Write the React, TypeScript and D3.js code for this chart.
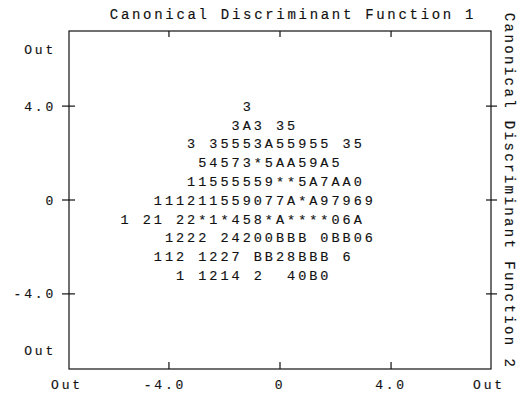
import React from "react";
import { scaleLinear } from "d3";

// territorial-style text plot
const X_TICKS = [-4, 0, 4];
const X_TICK_LABELS = ["-4.0", "0", "4.0"];
const Y_TICKS = [4, 0, -4];
const Y_TICK_LABELS = ["4.0", "0", "-4.0"];
const OUT_X = [-7.6, 7.6];
const OUT_Y = [6.4, -6.4];

const ROW_Y = [4.0, 3.2, 2.4, 1.6, 0.8, 0, -0.8, -1.6, -2.4, -3.2];
const ROW_START_COL = [-3, -4, -8, -7, -8, -11, -14, -10, -11, -9];
const ROW_TEXT = [
  "3",
  "3A3 35",
  "3 35553A55955 35",
  "54573*5AA59A5",
  "11555559**5A7AA0",
  "111211559077A*A97969",
  "1 21 22*1*458*A****06A",
  "1222 24200BBB 0BB06",
  "112 1227 BB28BBB 6",
  "1 1214 2  40B0",
];
const COL_WIDTH = 0.4;

const TITLE_X = "Canonical Discriminant Function 1";
const TITLE_Y = "Canonical Discriminant Function 2";

export default function App() {
  const width = 522;
  const height = 398;
  const margin = { top: 31, right: 31, bottom: 29, left: 69 };

  const x = scaleLinear()
    .domain([-7.6, 7.6])
    .range([margin.left, width - margin.right]);
  const y = scaleLinear()
    .domain([-7.2, 7.2])
    .range([height - margin.bottom, margin.top]);

  const font = "'Liberation Mono', 'DejaVu Sans Mono', monospace";
  const ink = "#111";

  const chars: { x: number; y: number; c: string; key: string }[] = [];
  ROW_TEXT.forEach((row, r) => {
    row.split("").forEach((c, i) => {
      if (c === " ") return;
      chars.push({
        x: x((ROW_START_COL[r] + i) * COL_WIDTH),
        y: y(ROW_Y[r]),
        c,
        key: `${r}-${i}`,
      });
    });
  });

  const [x0, x1] = x.range();
  const [y0, y1] = y.range(); // y0 bottom, y1 top

  return (
    <svg
      width={width}
      height={height}
      style={{ position: "absolute", left: 0, top: 0, background: "#fff" }}
      fontFamily={font}
    >
      {/* frame */}
      <rect
        x={x0}
        y={y1}
        width={x1 - x0}
        height={y0 - y1}
        fill="none"
        stroke={ink}
        strokeWidth={1.2}
      />

      {/* x ticks, top and bottom, inside */}
      {X_TICKS.map((t) => (
        <g key={"xt" + t}>
          <line x1={x(t)} x2={x(t)} y1={y1} y2={y1 + 6} stroke={ink} strokeWidth={1.2} />
          <line x1={x(t)} x2={x(t)} y1={y0} y2={y0 - 7} stroke={ink} strokeWidth={1.2} />
        </g>
      ))}

      {/* y ticks, crossing left and right frame */}
      {Y_TICKS.map((t) => (
        <g key={"yt" + t}>
          <line x1={x0 - 7} x2={x0 + 6} y1={y(t)} y2={y(t)} stroke={ink} strokeWidth={1.2} />
          <line x1={x1 - 5} x2={x1 + 6} y1={y(t)} y2={y(t)} stroke={ink} strokeWidth={1.2} />
        </g>
      ))}

      <g stroke={ink} strokeWidth={0.15} fill={ink}>
        {/* x tick labels */}
        <g fontSize={13} letterSpacing={2.8} textAnchor="middle">
          {X_TICKS.map((t, i) => (
            <text key={"xl" + t} x={x(t) - (t < 0 ? 4 : 0)} y={y0 + 15} dy="0.35em">
              {X_TICK_LABELS[i]}
            </text>
          ))}
          {OUT_X.map((t) => (
            <text key={"xo" + t} x={x(t) - 2} y={y0 + 15} dy="0.35em">
              Out
            </text>
          ))}
        </g>

        {/* y tick labels */}
        <g fontSize={13} letterSpacing={2.8} textAnchor="end">
          {Y_TICKS.map((t, i) => (
            <text key={"yl" + t} x={x0 - 13} y={y(t)} dy="0.35em">
              {Y_TICK_LABELS[i]}
            </text>
          ))}
          {OUT_Y.map((t) => (
            <text key={"yo" + t} x={x0 - 13} y={y(t)} dy="0.35em">
              Out
            </text>
          ))}
        </g>

        {/* titles */}
        <text
          x={(x0 + x1) / 2 + 13}
          y={14}
          dy="0.35em"
          textAnchor="middle"
          fontSize={14}
          letterSpacing={2.7}
        >
          {TITLE_X}
        </text>
        <text
          transform={`translate(${width - 12},${(y0 + y1) / 2 - 9}) rotate(90)`}
          dy="0.35em"
          textAnchor="middle"
          fontSize={14}
          letterSpacing={2.4}
        >
          {TITLE_Y}
        </text>

        {/* plotted group codes */}
        <g fontSize={13.5} textAnchor="middle">
          {chars.map((d) => (
            <text key={d.key} x={d.x} y={d.y} dy="0.35em">
              {d.c}
            </text>
          ))}
        </g>
      </g>
    </svg>
  );
}
